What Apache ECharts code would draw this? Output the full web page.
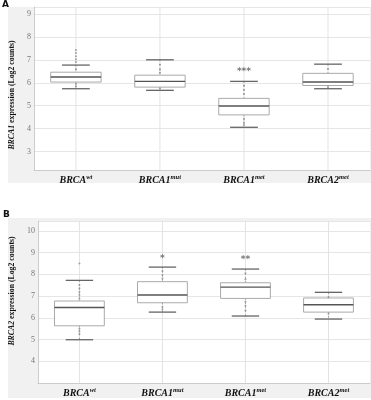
<!DOCTYPE html>
<html>
<head>
<meta charset="utf-8">
<script src="https://cdn.jsdelivr.net/npm/echarts@6/dist/echarts.min.js"></script>
<style>html,body{margin:0;padding:0;background:#fff}#chart{width:371px;height:400px}</style>
</head>
<body>
<div id="chart"></div>
<script>
var categories = [0, 1, 2, 3];
var labelMain = ['BRCA', 'BRCA1', 'BRCA1', 'BRCA2'];
var labelSup = ['wt', 'mut', 'met', 'met'];

// [low whisker, Q1, median, Q3, high whisker]
var boxA = [
	[5.74, 6.03, 6.25, 6.46, 6.77],
	[5.67, 5.81, 6.06, 6.33, 7.0],
	[4.06, 4.6, 4.99, 5.32, 6.06],
	[5.74, 5.88, 6.03, 6.41, 6.81]
];
var pointsA = [
	[7.43, 7.3, 7.15, 7.02, 6.9, 6.6, 5.95, 5.85],
	[6.78, 6.57, 6.42, 5.75],
	[5.88, 5.7, 5.51, 4.43, 4.27, 4.16],
	[6.6, 5.8]
];
var starsA = ['', '', '***', ''];
var starYA = [0, 0, 6.5, 0];

var boxB = [
	[4.99, 5.63, 6.47, 6.77, 7.72],
	[6.26, 6.69, 7.05, 7.66, 8.33],
	[6.08, 6.89, 7.41, 7.61, 8.24],
	[5.94, 6.26, 6.6, 6.91, 7.17]
];
var pointsB = [
	[8.5, 7.51, 7.36, 7.2, 7.05, 6.88, 5.49, 5.37, 5.25],
	[8.15, 7.97, 7.8, 6.5, 6.38],
	[8.05, 7.77, 6.74, 6.55, 6.33],
	[6.94, 6.18]
];
var starsB = ['', '*', '**', ''];
var starYB = [0, 8.73, 8.68, 0];

var serif = 'Liberation Serif';

function boxData(box) {
	return box.map(function (b, i) { return [i].concat(b); });
}
function dotData(pts) {
	var out = [];
	pts.forEach(function (arr, i) {
		arr.forEach(function (v) { out.push([i, v]); });
	});
	return out;
}
function starData(stars, ys) {
	var out = [];
	stars.forEach(function (s, i) {
		if (s) out.push({value: [i, ys[i]], label: {formatter: s}});
	});
	return out;
}

function renderBox(params, api) {
	var x = api.value(0);
	var low = api.coord([x, api.value(1)]);
	var q1 = api.coord([x, api.value(2)]);
	var med = api.coord([x, api.value(3)]);
	var q3 = api.coord([x, api.value(4)]);
	var high = api.coord([x, api.value(5)]);
	var bw = api.size([1, 0])[0];
	var half = bw * 0.3, cap = bw * 0.165;
	var cx = low[0];
	var cs = params.coordSys;
	var dash = {stroke: '#9a9a9a', lineWidth: 1, lineDash: [1.5, 2.5]};
	return {
		type: 'group',
		children: [
			// vertical grid line through the category centre
			{type: 'line', z2: -1, shape: {x1: cx, y1: cs.y, x2: cx, y2: cs.y + cs.height}, style: {stroke: '#e3e3e3', lineWidth: 1}},
			{type: 'line', shape: {x1: cx, y1: high[1], x2: cx, y2: q3[1]}, style: dash},
			{type: 'line', shape: {x1: cx, y1: q1[1], x2: cx, y2: low[1]}, style: dash},
			{type: 'line', shape: {x1: cx - cap, y1: high[1], x2: cx + cap, y2: high[1]}, style: {stroke: '#666', lineWidth: 1.3}},
			{type: 'line', shape: {x1: cx - cap, y1: low[1], x2: cx + cap, y2: low[1]}, style: {stroke: '#666', lineWidth: 1.3}},
			{type: 'rect', shape: {x: cx - half, y: q3[1], width: half * 2, height: q1[1] - q3[1]}, style: {fill: '#fff', stroke: '#aaa', lineWidth: 1}},
			{type: 'line', shape: {x1: cx - half, y1: med[1], x2: cx + half, y2: med[1]}, style: {stroke: '#555', lineWidth: 1.4}}
		]
	};
}

function xAxis(idx) {
	return {
		type: 'category', gridIndex: idx, data: categories,
		axisLine: {show: true, lineStyle: {color: '#ccc'}},
		axisTick: {show: false},
		splitLine: {show: false},
		boundaryGap: true,
		axisLabel: {
			margin: 4, interval: 0,
			formatter: function (v, i) { return '{a|' + labelMain[i] + '}{s|' + labelSup[i] + '}'; },
			rich: {
				a: {fontFamily: serif, fontSize: 10, fontWeight: 'bold', fontStyle: 'italic', color: '#111', lineHeight: 12},
				s: {fontFamily: serif, fontSize: 6.5, fontWeight: 'bold', fontStyle: 'italic', color: '#111', verticalAlign: 'top', lineHeight: 12, padding: [0, 0, 4, 0]}
			}
		}
	};
}
function yAxis(idx, min, max, gene, pad) {
	return {
		type: 'value', gridIndex: idx, min: min, max: max,
		name: '{i|' + gene + '} expression (Log2 counts)',
		nameLocation: 'middle', nameGap: 15,
		nameTextStyle: {
			fontFamily: serif, fontSize: 7.8, fontWeight: 'bold', color: '#111', padding: pad,
			rich: {i: {fontFamily: serif, fontSize: 7.8, fontWeight: 'bold', fontStyle: 'italic', color: '#111'}}
		},
		axisLine: {show: true, lineStyle: {color: '#ccc'}},
		axisTick: {show: false},
		splitLine: {lineStyle: {color: '#e6e6e6'}},
		axisLabel: {
			showMinLabel: false, showMaxLabel: false, margin: 3,
			fontFamily: serif, fontSize: 8, color: '#777',
			formatter: function (v) { return v % 1 === 0 ? String(v) : ''; }
		}
	};
}

function series(idx, box, pts, stars, ys) {
	return [
		{type: 'custom', xAxisIndex: idx, yAxisIndex: idx, renderItem: renderBox, data: boxData(box), encode: {x: 0, y: [1, 2, 3, 4, 5]}, z: 2},
		{type: 'scatter', xAxisIndex: idx, yAxisIndex: idx, data: dotData(pts), symbolSize: 2, itemStyle: {color: '#8c8c8c'}, z: 3},
		{type: 'scatter', xAxisIndex: idx, yAxisIndex: idx, data: starData(stars, ys), symbolSize: 0,
			label: {show: true, position: 'inside', fontFamily: 'DejaVu Sans', fontSize: 9, fontWeight: 'bold', color: '#555'}, z: 4}
	];
}

var myChart = echarts.init(document.getElementById('chart'));
myChart.setOption({
	animation: false,
	backgroundColor: '#fff',
	graphic: [
		{type: 'rect', z: -10, shape: {x: 8, y: 7, width: 363, height: 176}, style: {fill: '#f1f1f1'}},
		{type: 'rect', z: -10, shape: {x: 8, y: 218, width: 363, height: 180}, style: {fill: '#f1f1f1'}},
		{type: 'text', left: 2, top: 0, style: {text: 'A', font: 'bold 9px "DejaVu Sans"', fill: '#111'}},
		{type: 'text', left: 3, top: 210, style: {text: 'B', font: 'bold 9px "DejaVu Sans"', fill: '#111'}}
	],
	grid: [
		{left: 30, top: 7, width: 340, height: 163, show: true, backgroundColor: '#fff', borderWidth: 0},
		{left: 30, top: 221, width: 340, height: 162, show: true, backgroundColor: '#fff', borderWidth: 0}
	],
	xAxis: [xAxis(0), xAxis(1)],
	yAxis: [yAxis(0, 2.2, 9.3, 'BRCA1', [0, 13, 0, 0]), yAxis(1, 3, 10.45, 'BRCA2', [0, 0, 0, 22])],
	series: series(0, boxA, pointsA, starsA, starYA).concat(series(1, boxB, pointsB, starsB, starYB))
});
</script>
</body>
</html>
